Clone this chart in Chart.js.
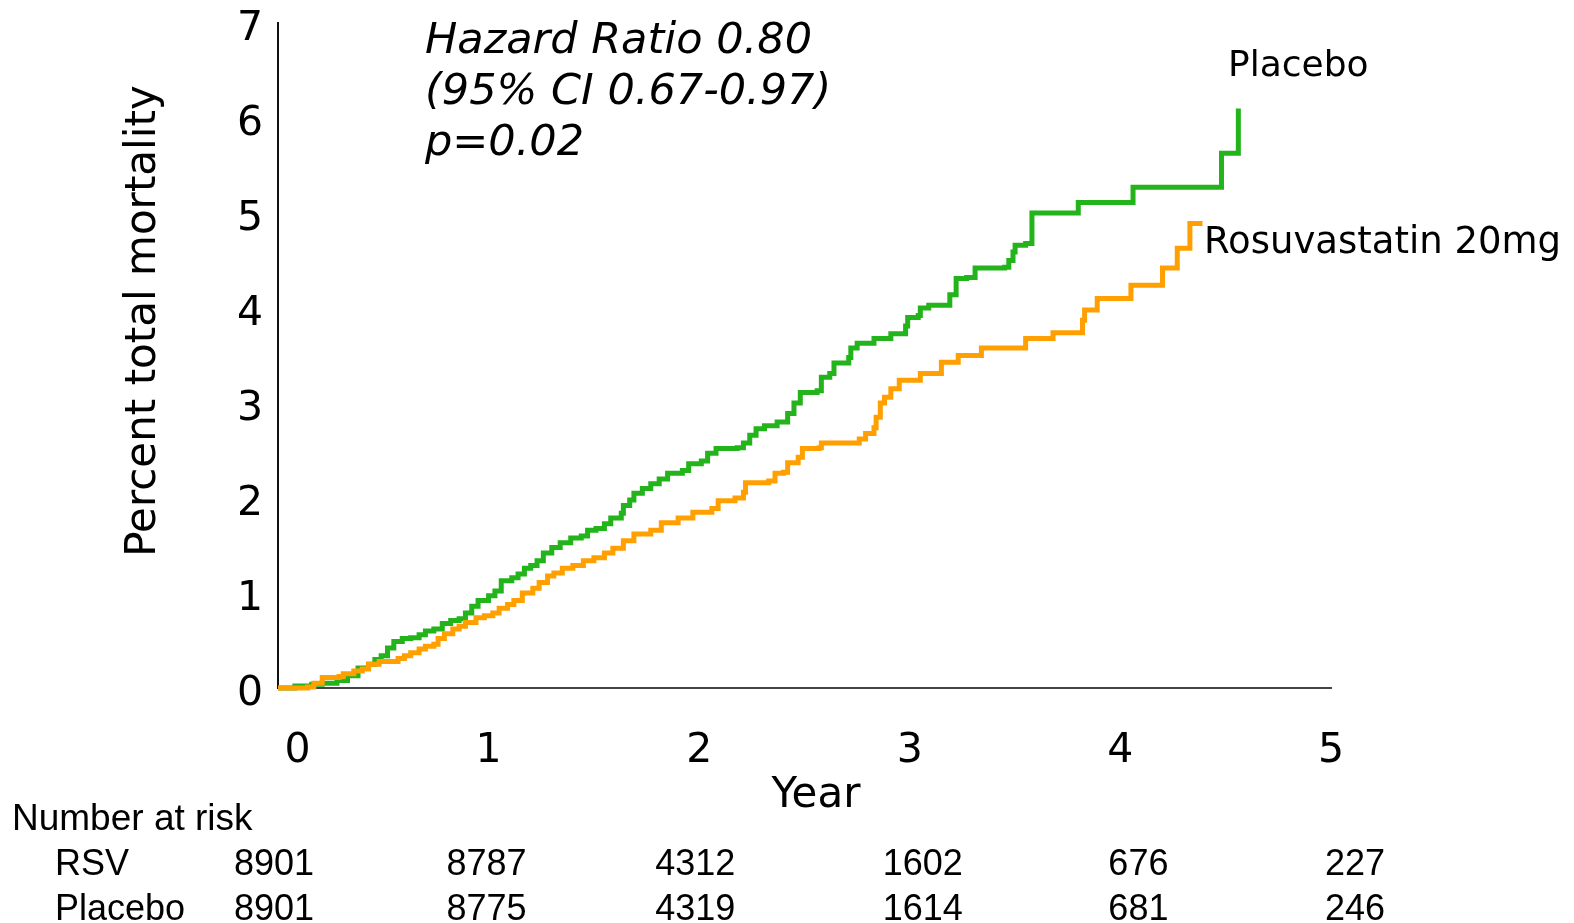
<!DOCTYPE html>
<html>
<head>
<meta charset="utf-8">
<title>Total mortality</title>
<script src="https://cdn.jsdelivr.net/npm/chart.js@4.4.0/dist/chart.umd.min.js"></script>
<style>
  html, body { margin: 0; padding: 0; background: #fff; }
  #wrap { width: 1574px; height: 923px; }
</style>
</head>
<body>
<div id="wrap"><canvas id="kmChart" width="1574" height="923"></canvas></div>
<script>
// Kaplan-Meier steps: year where the curve jumps, and percent after the jump
const rsvYears = [0, 0.14, 0.17, 0.21, 0.29, 0.31, 0.36, 0.40, 0.43, 0.48, 0.57, 0.60, 0.63, 0.67, 0.70, 0.74, 0.76, 0.79, 0.83, 0.86, 0.89, 0.94, 0.98, 1.02, 1.05, 1.09, 1.12, 1.16, 1.21, 1.24, 1.28, 1.31, 1.35, 1.40, 1.45, 1.50, 1.55, 1.59, 1.64, 1.69, 1.77, 1.82, 1.90, 1.97, 2.06, 2.09, 2.17, 2.21, 2.22, 2.33, 2.36, 2.40, 2.42, 2.47, 2.49, 2.57, 2.58, 2.76, 2.79, 2.83, 2.84, 2.86, 2.88, 2.91, 2.95, 3.05, 3.15, 3.23, 3.34, 3.55, 3.68, 3.82, 3.83, 3.89, 4.05, 4.20, 4.27, 4.33, 4.39];
const rsvPct = [0, 0.01, 0.05, 0.11, 0.12, 0.15, 0.18, 0.20, 0.25, 0.28, 0.31, 0.34, 0.37, 0.41, 0.44, 0.46, 0.52, 0.57, 0.62, 0.65, 0.69, 0.74, 0.76, 0.79, 0.84, 0.88, 0.92, 1.00, 1.05, 1.11, 1.18, 1.21, 1.26, 1.29, 1.34, 1.37, 1.42, 1.47, 1.55, 1.62, 1.66, 1.74, 1.79, 1.85, 1.89, 1.97, 2.00, 2.06, 2.16, 2.18, 2.26, 2.27, 2.37, 2.43, 2.52, 2.53, 2.58, 2.62, 2.68, 2.74, 2.85, 3.00, 3.06, 3.15, 3.24, 3.31, 3.43, 3.50, 3.58, 3.68, 3.74, 3.87, 3.98, 4.10, 4.24, 4.42, 4.63, 4.89, 4.89];

const placeboYears = [0, 0.08, 0.16, 0.21, 0.28, 0.33, 0.38, 0.43, 0.46, 0.49, 0.52, 0.55, 0.59, 0.63, 0.67, 0.70, 0.74, 0.78, 0.82, 0.86, 0.89, 0.92, 0.95, 1.00, 1.03, 1.06, 1.11, 1.14, 1.17, 1.20, 1.23, 1.26, 1.30, 1.34, 1.39, 1.44, 1.47, 1.51, 1.55, 1.58, 1.63, 1.64, 1.67, 1.69, 1.73, 1.77, 1.81, 1.85, 1.92, 1.95, 2.01, 2.04, 2.08, 2.18, 2.21, 2.24, 2.27, 2.31, 2.37, 2.42, 2.45, 2.48, 2.56, 2.58, 2.62, 2.64, 2.71, 2.72, 2.75, 2.83, 2.91, 2.98, 2.99, 3.04, 3.05, 3.09, 3.19, 3.22, 3.27, 3.31, 3.45, 3.47, 3.49, 3.50, 3.55, 3.58, 3.80, 4.06, 4.48, 4.56];
const placeboPct = [0, 0.02, 0.04, 0.05, 0.08, 0.13, 0.21, 0.25, 0.30, 0.34, 0.42, 0.49, 0.52, 0.53, 0.56, 0.60, 0.62, 0.68, 0.71, 0.73, 0.79, 0.86, 0.92, 0.97, 1.02, 1.13, 1.16, 1.20, 1.26, 1.29, 1.34, 1.42, 1.48, 1.53, 1.58, 1.60, 1.66, 1.68, 1.73, 1.79, 1.84, 1.92, 1.98, 2.05, 2.10, 2.15, 2.20, 2.26, 2.29, 2.36, 2.39, 2.47, 2.52, 2.53, 2.58, 2.66, 2.73, 2.76, 2.80, 2.89, 3.00, 3.11, 3.13, 3.27, 3.31, 3.42, 3.48, 3.58, 3.63, 3.68, 3.73, 3.81, 3.90, 3.92, 4.00, 4.03, 4.14, 4.31, 4.32, 4.42, 4.43, 4.50, 4.59, 4.66, 4.68, 5.00, 5.11, 5.27, 5.63, 6.10];

// number at risk table
const riskYears = [0, 1, 2, 3, 4, 5];
const riskRsv = [8901, 8787, 4312, 1602, 676, 227];
const riskPlacebo = [8901, 8775, 4319, 1614, 681, 246];

const statLines = ['Hazard Ratio 0.80', '(95% CI 0.67-0.97)', 'p=0.02'];

const GREEN = '#22b41a';
const ORANGE = '#ffa000';

function toPoints(xs, ys) {
    return xs.map((x, i) => ({ x: x, y: ys[i] }));
}

// keep the plot box exactly where the layout padding puts it
function noScalePadding(scale) {
    scale.paddingTop = 0;
    scale.paddingBottom = 0;
    scale.paddingLeft = 0;
    scale.paddingRight = 0;
}

// texts around the plot: stats, curve names, axis titles, risk table
const textPlugin = {
    id: 'kmText',
    afterDraw(chart) {
        const ctx = chart.ctx;
        const xs = chart.scales.x;
        ctx.save();
        ctx.fillStyle = '#000';

        ctx.font = 'italic 43px "DejaVu Sans"';
        ctx.textAlign = 'left';
        ctx.textBaseline = 'alphabetic';
        statLines.forEach((t, i) => ctx.fillText(t, 425, 53 + i * 51));

        ctx.font = '36px "DejaVu Sans"';
        ctx.fillText('Placebo', 1228, 76);
        ctx.font = '37px "DejaVu Sans"';
        ctx.fillText('Rosuvastatin 20mg', 1204, 253);

        // axis titles
        ctx.font = '42px "DejaVu Sans"';
        ctx.textAlign = 'center';
        ctx.fillText('Year', 816, 807);
        ctx.save();
        ctx.translate(155, 321);
        ctx.rotate(-Math.PI / 2);
        ctx.fillText('Percent total mortality', 0, 0);
        ctx.restore();

        // number at risk
        ctx.font = '37px "Liberation Sans", Arial, sans-serif';
        ctx.textAlign = 'left';
        ctx.fillText('Number at risk', 12, 830);
        ctx.font = '36px "Liberation Sans", Arial, sans-serif';
        ctx.fillText('RSV', 55, 875);
        ctx.fillText('Placebo', 55, 920);
        const colShift = [-4, -2, -4, 13, 18, 24];
        ctx.textAlign = 'center';
        riskYears.forEach((yr, i) => {
            const px = xs.getPixelForValue(yr) + colShift[i];
            ctx.fillText(String(riskRsv[i]), px, 875);
            ctx.fillText(String(riskPlacebo[i]), px, 920);
        });
        ctx.restore();
    }
};

const ctx = document.getElementById('kmChart').getContext('2d');
const kmChart = new Chart(ctx, {
    type: 'line',
    data: {
        datasets: [{
            label: 'Rosuvastatin 20mg',
            data: toPoints(rsvYears, rsvPct),
            borderColor: ORANGE,
            borderWidth: 5,
            stepped: true,
            pointRadius: 0,
            fill: false,
            clip: 10
        }, {
            label: 'Placebo',
            data: toPoints(placeboYears, placeboPct),
            borderColor: GREEN,
            borderWidth: 5,
            stepped: true,
            pointRadius: 0,
            fill: false,
            clip: 10
        }]
    },
    options: {
        responsive: false,
        animation: false,
        devicePixelRatio: 1,
        layout: { padding: { left: 0, top: 23, right: 243, bottom: 0 } },
        plugins: {
            legend: { display: false },
            tooltip: { enabled: false }
        },
        scales: {
            x: {
                type: 'linear',
                min: 0,
                max: 5,
                afterFit: (scale) => {
                    noScalePadding(scale);
                    scale.height = 923 - 688;
                },
                grid: { display: false, drawTicks: false },
                border: { display: true, color: '#444', width: 2 },
                ticks: {
                    stepSize: 1,
                    padding: 43,
                    color: '#000',
                    font: { family: 'DejaVu Sans', size: 41, lineHeight: 1 },
                    // nudge the 0 away from the y axis 0
                    callback: (v) => (v === 0 ? '   0' : v)
                }
            },
            y: {
                min: 0,
                max: 7,
                afterFit: (scale) => {
                    noScalePadding(scale);
                    scale.width = 278;
                },
                grid: { display: false, drawTicks: false },
                border: { display: true, color: '#111', width: 2 },
                ticks: {
                    stepSize: 1,
                    padding: 15,
                    labelOffset: 6,
                    color: '#000',
                    font: { family: 'DejaVu Sans', size: 41, lineHeight: 1 }
                }
            }
        }
    },
    plugins: [textPlugin]
});
</script>
</body>
</html>
